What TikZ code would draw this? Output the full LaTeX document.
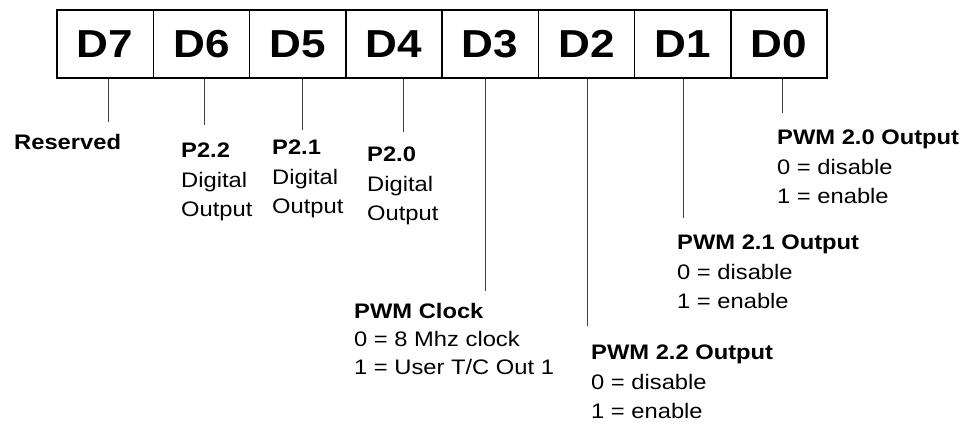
\documentclass[tikz,border=0pt]{standalone}
\usepackage{fontspec}
\setmainfont{Liberation Sans}[FakeStretch=1.13]
\usetikzlibrary{positioning}

\tikzset{
  bitcell/.style={draw,line width=1.5pt,minimum width=96.25pt,minimum height=68pt,inner sep=0pt,font=\fontsize{39}{44}\selectfont\bfseries},
  leader/.style={draw=black!75,line width=1pt},
  bitlabel/.style={anchor=north west,inner sep=0pt,align=left,font=\fontsize{21}{29.5}\selectfont},
}

\begin{document}
\begin{tikzpicture}[x=1pt,y=-1pt]
\useasboundingbox (0,0) rectangle (963,425);
\foreach \b [count=\i from 0] in {7,...,0}
  \node[bitcell] (d\b) at ({105.125+96.25*\i},44) {D\b};
\coordinate (e7) at (108,122);
\coordinate (e6) at (204,125);
\coordinate (e5) at (302,130);
\coordinate (e4) at (403,132);
\coordinate (e3) at (485,291);
\coordinate (e2) at (587,326);
\coordinate (e1) at (683,218);
\coordinate (e0) at (782,113);
\foreach \b in {7,...,0}
  \draw[leader] (d\b.south -| e\b) -- (e\b);
\node[bitlabel] (l7) at (14,134) {\textbf{Reserved}};
\node[bitlabel] (l6) at (181,143) {\textbf{P2.2}\\Digital\\Output};
\node[bitlabel] (l5) at (272,140) {\textbf{P2.1}\\Digital\\Output};
\node[bitlabel] (l4) at (367,147) {\textbf{P2.0}\\Digital\\Output};
\node[bitlabel,font=\fontsize{21}{28}\selectfont] (l3) at (354,303) {\textbf{PWM Clock}\\0 = 8 Mhz clock\\1 = User T/C Out 1};
\node[bitlabel] (l2) at (591,345) {\textbf{PWM 2.2 Output}\\0 = disable\\1 = enable};
\node[bitlabel] (l1) at (677,235) {\textbf{PWM 2.1 Output}\\0 = disable\\1 = enable};
\node[bitlabel] (l0) at (777,130) {\textbf{PWM 2.0 Output}\\0 = disable\\1 = enable};
\end{tikzpicture}
\end{document}
